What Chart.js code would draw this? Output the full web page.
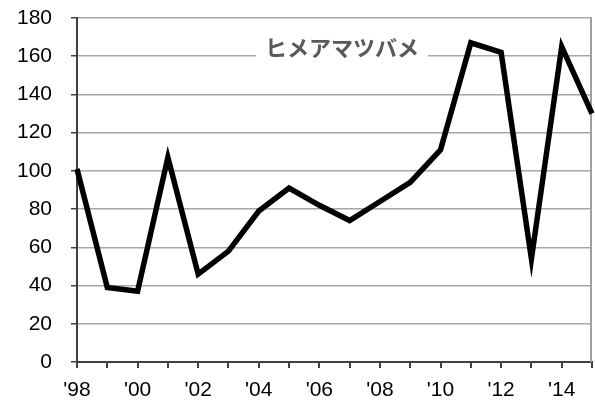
<!DOCTYPE html>
<html><head><meta charset="utf-8">
<script src="https://cdn.jsdelivr.net/npm/chart.js@4/dist/chart.umd.min.js"></script>
<style>html,body{margin:0;padding:0;background:#fff}#wrap{width:595px;height:403px}</style>
</head><body><div id="wrap"><canvas id="c" width="595" height="403"></canvas></div>
<script>
const years = ['1998','1999','2000','2001','2002','2003','2004','2005','2006','2007','2008','2009','2010','2011','2012','2013','2014','2015'];
const tickLabels = ["'98","","'00","","'02","","'04","","'06","","'08","","'10","","'12","","'14",""];
const counts = [101,39,37,107,46,58,79,91,82,74,84,94,111,167,162,54,165,130];
const yTicks = [0,20,40,60,80,100,120,140,160,180];
const titleText = 'ヒメアマツバメ';

const deco = {
  id:'deco',
  beforeDatasetsDraw(chart){
    const ctx = chart.ctx, a = chart.chartArea;
    ctx.save();
    ctx.strokeStyle = '#a0a0a0'; ctx.lineWidth = 2;
    ctx.beginPath(); ctx.moveTo(a.right-1, a.top); ctx.lineTo(a.right-1, a.bottom); ctx.stroke();
    ctx.font = 'bold 22px "Noto Sans CJK JP"';
    const w = ctx.measureText(titleText).width;
    const cx = chart.scales.x.getPixelForValue(8.75);
    const cy = chart.scales.y.getPixelForValue(164.5);
    ctx.fillStyle = '#fff';
    ctx.fillRect(cx - w/2 - 9, cy - 14, w + 18, 28);
    ctx.fillStyle = '#595959'; ctx.textAlign = 'center'; ctx.textBaseline = 'middle';
    ctx.fillText(titleText, cx, cy);
    ctx.restore();
  }
};

new Chart(document.getElementById('c'), {
  type:'line',
  data:{labels:years, datasets:[{data:counts, borderColor:'#000', borderWidth:5.5, pointRadius:0, tension:0, borderJoinStyle:'miter', fill:false}]},
  options:{
    responsive:false, animation:false,
    layout:{padding:{top:18,right:3,left:0,bottom:0}},
    plugins:{legend:{display:false}, tooltip:{enabled:false}},
    scales:{
      x:{offset:false,
        grid:{drawOnChartArea:false, drawTicks:true, tickLength:6, color:'#404040', lineWidth:2},
        border:{display:true, color:'#404040', width:2},
        ticks:{autoSkip:false, maxRotation:0, padding:10, color:'#000', font:{family:'"Liberation Sans", Arial', size:21},
          callback:(v,i)=>tickLabels[i]},
        afterFit:(s)=>{s.height=41; s.paddingLeft=0; s.paddingRight=0;}
      },
      y:{min:0,max:180,
        afterBuildTicks:(s)=>{s.ticks = yTicks.map(v=>({value:v}));},
        grid:{color:'#a6a6a6', lineWidth:1.5, tickLength:6, tickColor:'#404040'},
        border:{display:true, color:'#404040', width:2},
        ticks:{padding:19, color:'#000', font:{family:'"Liberation Sans", Arial', size:21}},
        afterFit:(s)=>{s.width=77; s.paddingTop=0; s.paddingBottom=0;}
      }
    }
  },
  plugins:[deco]
});
</script></body></html>
